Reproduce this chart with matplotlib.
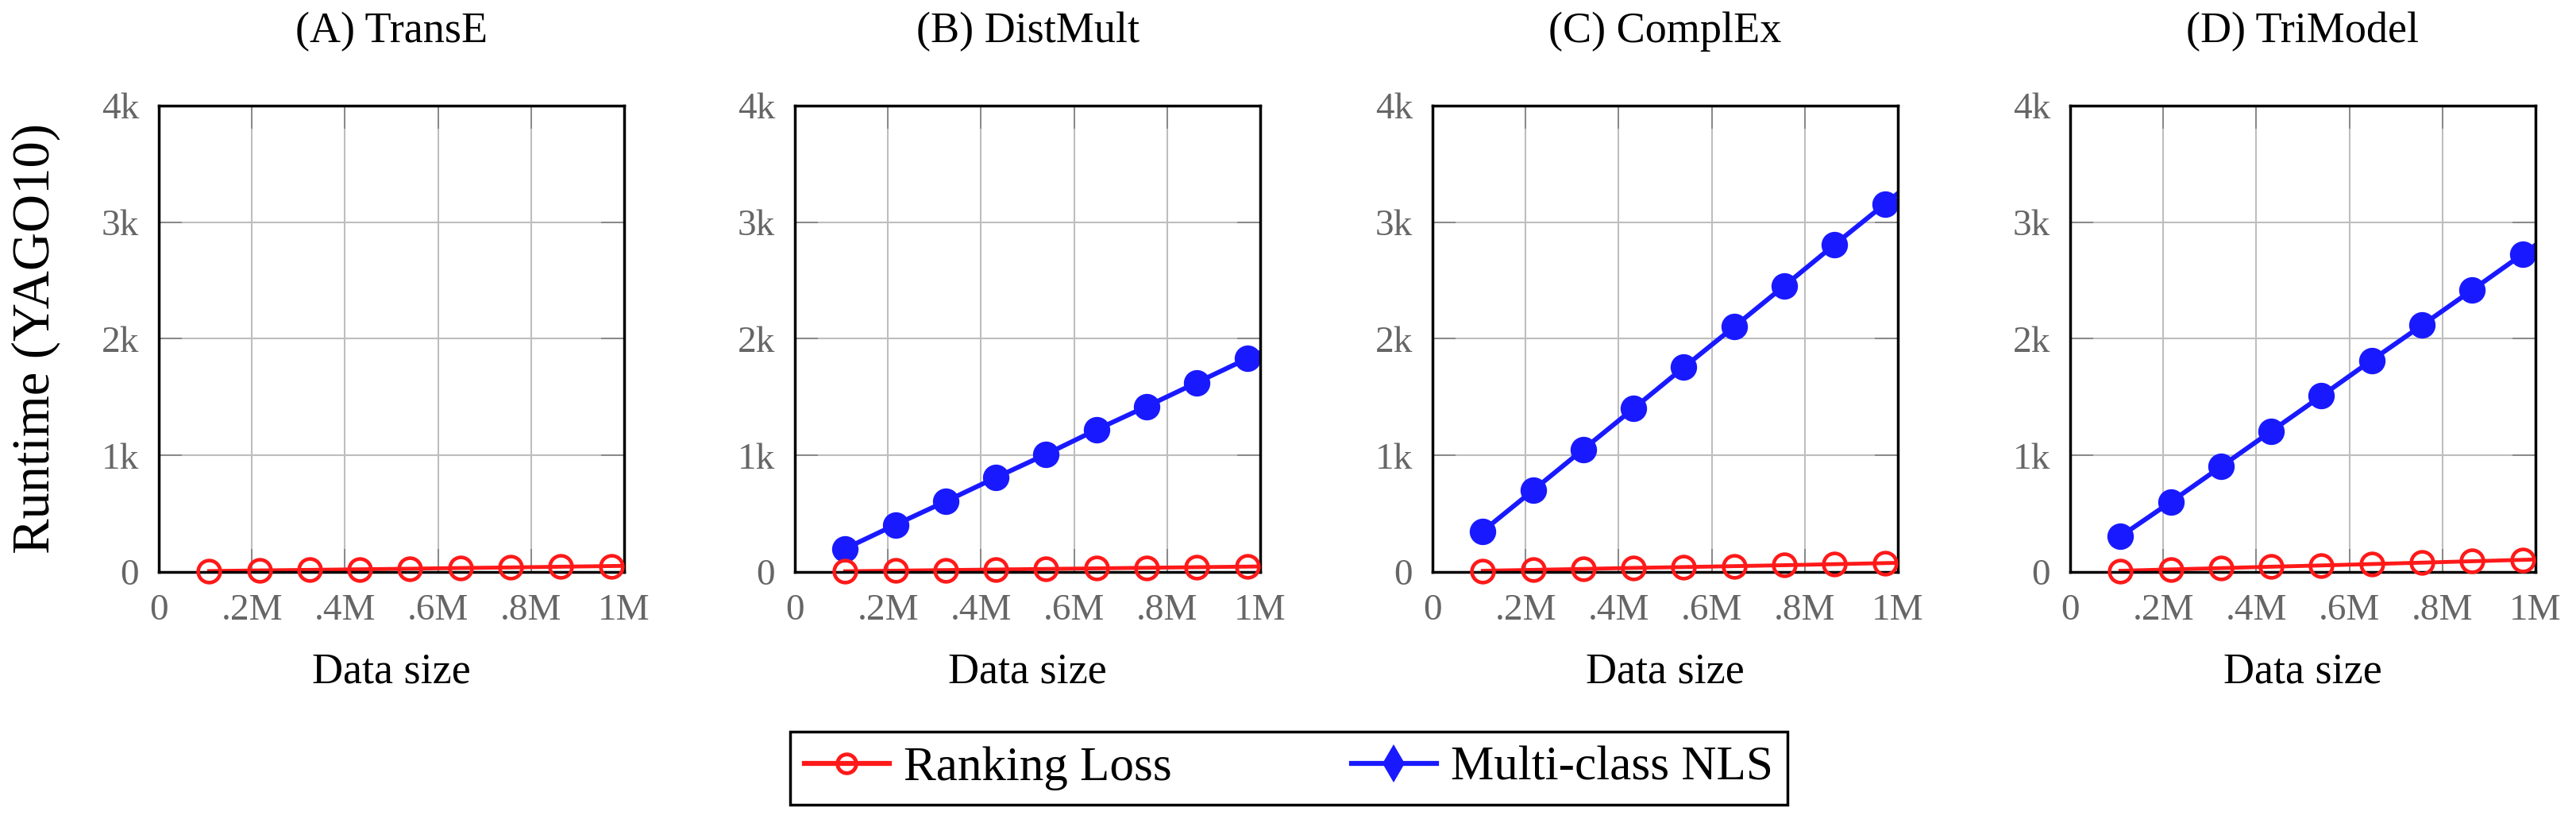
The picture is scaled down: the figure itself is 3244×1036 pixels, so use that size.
"""Runtime vs data size on YAGO10: ranking loss vs multi-class NLS, four models."""

import matplotlib

matplotlib.use("Agg")
import matplotlib.pyplot as plt  # noqa: E402
from matplotlib.lines import Line2D  # noqa: E402

plt.rcParams["font.family"] = ["Liberation Serif", "DejaVu Serif"]

# data size in millions of triples (10th point lies past xmax and gets clipped)
sizes = [0.108, 0.216, 0.324, 0.432, 0.540, 0.648, 0.756, 0.864, 0.972, 1.080]

titles = ["(A) TransE", "(B) DistMult", "(C) ComplEx", "(D) TriModel"]

ranking_transe = [8, 13, 18, 23, 28, 34, 39, 45, 51, 57]
ranking_distmult = [6, 11, 16, 21, 26, 31, 36, 41, 46, 51]
ranking_complex = [10, 18, 26, 35, 42, 50, 58, 67, 76, 85]
ranking_trimodel = [10, 22, 33, 45, 56, 68, 80, 92, 104, 116]

nls_distmult = [200, 405, 605, 810, 1010, 1220, 1420, 1625, 1830, 2035]
nls_complex = [350, 700, 1052, 1402, 1755, 2103, 2454, 2808, 3156, 3508]
nls_trimodel = [305, 600, 903, 1207, 1510, 1816, 2116, 2419, 2725, 3030]

ranking = [ranking_transe, ranking_distmult, ranking_complex, ranking_trimodel]
nls = [None, nls_distmult, nls_complex, nls_trimodel]

xticks = [0, 0.2, 0.4, 0.6, 0.8, 1.0]
xticklabels = ["0", ".2M", ".4M", ".6M", ".8M", "1M"]
yticks = [0, 1000, 2000, 3000, 4000]
yticklabels = ["0", "1k", "2k", "3k", "4k"]

RED = "#ff1919"
BLUE = "#1919ff"
W, H = 3244, 1036
lefts = [200, 1001, 1804, 2607]

fig = plt.figure(figsize=(W / 100, H / 100), dpi=100)

for i, left in enumerate(lefts):
    ax = fig.add_axes([left / W, (H - 720) / H, 586 / W, 587 / H])
    ax.set_xlim(0, 1.0)
    ax.set_ylim(0, 4000)
    ax.grid(True, color="#bebebe", lw=1.5, zorder=0)
    ax.set_axisbelow(True)

    if nls[i] is not None:
        ax.plot(sizes, nls[i], color=BLUE, lw=4.3, zorder=2)
        ax.plot(sizes[:9], nls[i][:9], ls="none", marker="o", ms=23, mfc=BLUE,
                mec=BLUE, mew=1, zorder=3, clip_on=False)
    ax.plot(sizes, ranking[i], color=RED, lw=3.5, zorder=2)
    ax.plot(sizes[:9], ranking[i][:9], ls="none", marker="o", ms=20, mfc="none",
            mec=RED, mew=3.3, zorder=4, clip_on=False)

    ax.set_xticks(xticks)
    ax.set_xticklabels(xticklabels)
    ax.set_yticks(yticks)
    ax.set_yticklabels(yticklabels)
    ax.tick_params(direction="in", length=21, width=1.2, color="#808080",
                   labelcolor="#666666", labelsize=34, top=True, right=True)
    ax.tick_params(axis="x", pad=20)
    ax.tick_params(axis="y", pad=18)
    for sp in ax.spines.values():
        sp.set_linewidth(2.5)
        sp.set_zorder(3.5)

    ax.text(0.5, 1 + (133 - 40) / 587, titles[i], transform=ax.transAxes,
            ha="center", va="center", fontsize=39)
    ax.text(0.5, -(846 - 720) / 587, "Data size", transform=ax.transAxes,
            ha="center", va="center", fontsize=39)

fig.text(45 / W, 1 - 426 / H, "Runtime (YAGO10)", rotation=90, ha="center",
         va="center", fontsize=48)

handles = [
    Line2D([], [], color=RED, lw=4.5, marker="o", ms=17, mfc="none", mec=RED, mew=3.5),
    Line2D([], [], color=BLUE, lw=4.5, marker="d", ms=24, mfc=BLUE, mec=BLUE, mew=0),
]
leg = fig.legend(handles, ["Ranking Loss", "Multi-class NLS"], loc="center",
                 bbox_to_anchor=(1623 / W, 1 - 967 / H), ncol=2, fontsize=44,
                 handlelength=1.75, handletextpad=0.3, columnspacing=3.7,
                 borderpad=0.3, fancybox=False, framealpha=1)
leg.get_frame().set_edgecolor("black")
leg.get_frame().set_linewidth(2.5)

fig.savefig("out.png", dpi=100)
